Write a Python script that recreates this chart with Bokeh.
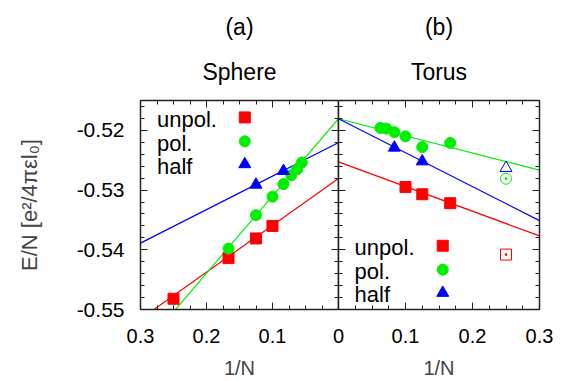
from bokeh.plotting import figure
from bokeh.models import Range1d, LinearAxis, FixedTicker, PrintfTickFormatter
from bokeh.layouts import row, column
from bokeh.embed import file_html
from bokeh.resources import INLINE

# ---------------- data ----------------
# (a) Sphere
inv_n_sphere_unpol = [1/4, 1/6, 1/8, 1/10]
e_sphere_unpol = [-0.5482, -0.5414, -0.5381, -0.5360]
inv_n_sphere_pol = [1/6, 1/8, 1/10, 1/12, 1/14, 1/16, 1/18]
e_sphere_pol = [-0.5398, -0.5342, -0.5311, -0.5290, -0.5275, -0.5265, -0.5254]
inv_n_sphere_half = [1/8, 1/12]
e_sphere_half = [-0.5291, -0.5268]

# (b) Torus
inv_n_torus_unpol = [1/10, 1/8, 1/6]
e_torus_unpol = [-0.5295, -0.5307, -0.5322]
inv_n_torus_pol = [1/16, 1/14, 1/12, 1/10, 1/8, 1/6]
e_torus_pol = [-0.5196, -0.5197, -0.5203, -0.5210, -0.5228, -0.5221]
inv_n_torus_half = [1/12, 1/8]
e_torus_half = [-0.5229, -0.5252]
# open symbols at 1/N = 1/4 (torus)
inv_n_torus_open = [1/4]
e_torus_open_unpol = [-0.5408]
e_torus_open_pol = [-0.5281]
e_torus_open_half = [-0.5263]

# extrapolation lines: energy at 1/N = 0 and 1/N = 0.3
fit_inv_n = [0.0, 0.3]
fit_sphere_unpol = [-0.52805, -0.5516]
fit_sphere_pol = [-0.51805, -0.55687]
fit_sphere_half = [-0.52205, -0.53888]
fit_torus_unpol = [-0.52528, -0.53767]
fit_torus_pol = [-0.51805, -0.52667]
fit_torus_half = [-0.51805, -0.53512]

series_names = ["unpol.", "pol.", "half"]
panel_tags = ["(a)", "(b)"]
panel_names = ["Sphere", "Torus"]
x_tick_values = [0, 0.1, 0.2, 0.3]
x_tick_labels = ["0", "0.1", "0.2", "0.3"]
y_tick_values = [-0.55, -0.54, -0.53, -0.52]

# ---------------- style ----------------
RED, GREEN, BLUE = "#ff0000", "#00ee00", "#0000ff"
FONT = "Liberation Sans"
TOP_H = 98          # strip holding the panel titles
H = 381 - TOP_H     # plot canvases
X_MINOR = [i * 0.025 for i in range(13)]
Y_MINOR = [-0.55 + i * 0.002 for i in range(18)]
OVERLAP = 14  # right panel canvas slides under the shared border so its "0" is whole
LEFT_W, LEFT_BORDER, FRAME_A = 338, 140, 198
RIGHT_FRAME, RIGHT_BORDER = 201, 28


def add_axes(p, left_labels, show_zero):
    for loc in ["left", "right", "above", "below"]:
        vertical = loc in ("left", "right")
        ticker = FixedTicker(ticks=y_tick_values if vertical else x_tick_values,
                             minor_ticks=Y_MINOR if vertical else X_MINOR)
        ax = LinearAxis(ticker=ticker)
        ax.axis_line_color = "#222222"
        ax.axis_line_width = 1.5
        ax.major_tick_in = 7
        ax.major_tick_out = 0
        ax.minor_tick_in = 4
        ax.minor_tick_out = 0
        ax.major_tick_line_color = "#222222"
        ax.minor_tick_line_color = "#222222"
        ax.major_label_text_font = FONT
        show = (loc == "below") or (loc == "left" and left_labels)
        if show:
            ax.major_label_text_color = "black"
            if vertical:
                ax.major_label_text_font_size = "21px"
                ax.major_label_standoff = 16
                ax.formatter = PrintfTickFormatter(format="%.2f")
            else:
                ax.major_label_text_font_size = "20px"
                ax.major_label_standoff = 19
                ax.major_label_overrides = {v: ("" if (v == 0 and not show_zero) else t)
                                            for v, t in zip(x_tick_values, x_tick_labels)}
                ax.axis_label = "1/N"
                ax.axis_label_text_font = FONT
                ax.axis_label_text_font_size = "20px"
                ax.axis_label_text_font_style = "normal"
                ax.axis_label_standoff = 11
        else:
            ax.major_label_text_color = None
            ax.major_label_text_font_size = "0px"
            ax.major_label_standoff = 0
        p.add_layout(ax, loc)
    return p


def make_fig(x_range, width, border_left, border_right):
    p = figure(width=width, height=H, x_range=x_range, y_range=Range1d(-0.55, -0.515),
               x_axis_type=None, y_axis_type=None, toolbar_location=None, title=None,
               output_backend="svg", min_border_left=border_left,
               min_border_right=border_right, min_border_top=2, min_border_bottom=71)
    p.outline_line_color = None
    p.background_fill_color = "white"
    p.border_fill_color = "white"
    return p


def title_strip(x_range, width, tag, name):
    # x range spans the whole strip so that 1/N = 0.15 sits above the panel centre
    t = figure(width=width, height=TOP_H, x_range=x_range, y_range=Range1d(0, TOP_H),
               x_axis_type=None, y_axis_type=None, toolbar_location=None, title=None,
               output_backend="svg", min_border=0)
    t.outline_line_color = None
    t.background_fill_color = "white"
    t.border_fill_color = "white"
    t.text(x=[0.15, 0.15], y=[TOP_H - 26, TOP_H - 71.7], text=[tag, name],
           text_align="center", text_baseline="alphabetic", text_color="black",
           text_font={"value": FONT}, text_font_size="23px")
    return t


# ---------------- (a) Sphere ----------------
pa = make_fig(Range1d(0.3, 0.0), LEFT_W, LEFT_BORDER, 0)
add_axes(pa, True, False)
pa.left[0].axis_label = "E/N [e²/4πεl₀]"
pa.left[0].axis_label_text_font = FONT
pa.left[0].axis_label_text_font_size = "22px"
pa.left[0].axis_label_text_font_style = "normal"
pa.left[0].axis_label_standoff = 32

pa.line(fit_inv_n, fit_sphere_unpol, color=RED, line_width=1.2)
pa.line(fit_inv_n, fit_sphere_pol, color=GREEN, line_width=1.2)
pa.line(fit_inv_n, fit_sphere_half, color=BLUE, line_width=1.2)
pa.scatter(inv_n_sphere_unpol, e_sphere_unpol, marker="square", size=11, color=RED)
pa.scatter(inv_n_sphere_pol, e_sphere_pol, marker="circle", size=11, color=GREEN)
pa.scatter(inv_n_sphere_half, e_sphere_half, marker="triangle", size=12, color=BLUE)

# legend (label text left, symbol right), placed in data space of the panel
leg_a_x = 0.142
leg_a_text_x = 0.275
leg_a_y = [-0.51783, -0.52183, -0.52567]
for name, yy, mk, c, s in zip(series_names, leg_a_y, ["square", "circle", "triangle"],
                              [RED, GREEN, BLUE], [11, 11, 12]):
    pa.scatter([leg_a_x], [yy], marker=mk, size=s, color=c)
pa.text(x=[leg_a_text_x] * 3, y=leg_a_y, text=series_names, text_font_size="22px",
        text_baseline="middle", text_align="left", text_color="black",
        text_font={"value": FONT}, y_offset=2)

# ---------------- (b) Torus ----------------
pb = make_fig(Range1d(0.0, 0.3), OVERLAP + RIGHT_FRAME + RIGHT_BORDER, OVERLAP, RIGHT_BORDER)
pb.border_fill_alpha = 0
pb.styles = {"margin-left": f"-{OVERLAP}px"}
add_axes(pb, False, True)

pb.line(fit_inv_n, fit_torus_unpol, color=RED, line_width=1.2)
pb.line(fit_inv_n, fit_torus_pol, color=GREEN, line_width=1.2)
pb.line(fit_inv_n, fit_torus_half, color=BLUE, line_width=1.2)
pb.scatter(inv_n_torus_unpol, e_torus_unpol, marker="square", size=11, color=RED)
pb.scatter(inv_n_torus_pol, e_torus_pol, marker="circle", size=11, color=GREEN)
pb.scatter(inv_n_torus_half, e_torus_half, marker="triangle", size=12, color=BLUE)
pb.scatter(inv_n_torus_open, e_torus_open_unpol, marker="square_dot", size=11,
           line_color=RED, fill_color=None, line_width=1)
pb.scatter(inv_n_torus_open, e_torus_open_pol, marker="circle_dot", size=11,
           line_color=GREEN, fill_color=None, line_width=1)
pb.scatter(inv_n_torus_open, e_torus_open_half, marker="triangle", size=12,
           line_color=BLUE, fill_color=None, line_width=1)

leg_b_x = 0.1556
leg_b_text_x = 0.024
leg_b_y = [-0.53933, -0.54333, -0.54722]
for name, yy, mk, c, s in zip(series_names, leg_b_y, ["square", "circle", "triangle"],
                              [RED, GREEN, BLUE], [11, 11, 12]):
    pb.scatter([leg_b_x], [yy], marker=mk, size=s, color=c)
pb.text(x=[leg_b_text_x] * 3, y=leg_b_y, text=series_names, text_font_size="22px",
        text_baseline="middle", text_align="left", text_color="black",
        text_font={"value": FONT}, y_offset=2)

# ---------------- title strip ----------------
span_a = 0.3 / FRAME_A
ta = title_strip(Range1d(0.3 + LEFT_BORDER * span_a, 0.0), LEFT_W, panel_tags[0], panel_names[0])
right_strip_w = OVERLAP + RIGHT_FRAME + RIGHT_BORDER - OVERLAP
span_b = 0.3 / RIGHT_FRAME
tb = title_strip(Range1d(0.0, right_strip_w * span_b), right_strip_w, panel_tags[1], panel_names[1])

layout = column(row(ta, tb), row(pa, pb))
open("out.html", "w").write(file_html(layout, INLINE))
